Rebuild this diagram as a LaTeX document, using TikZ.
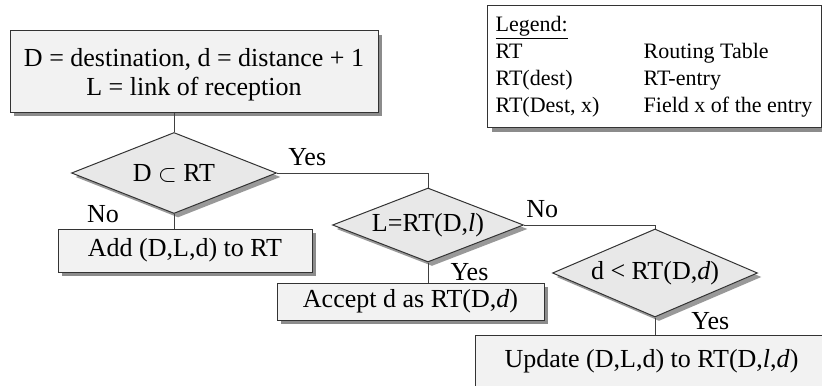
\documentclass[tikz,border=0pt]{standalone}
\usepackage{fontspec}
\setmainfont{Liberation Serif}
\usepackage{tikz}
\usetikzlibrary{shapes.geometric, shadows}
\tikzstyle{process} = [rectangle, draw=black!80, fill=black!5, line width=0.5pt, text centered, font=\fontsize{13}{14.5}\selectfont, drop shadow={shadow xshift=2pt, shadow yshift=-2pt, fill=black!45, opacity=1}]
\tikzstyle{decision} = [diamond, draw=black!80, fill=black!9, line width=0.5pt, inner sep=0pt, aspect=2.5, text centered, font=\fontsize{13}{14.5}\selectfont, drop shadow={shadow xshift=2pt, shadow yshift=-2pt, fill=black!40, opacity=1}]
\tikzstyle{legendbox} = [rectangle, draw=black!80, fill=white, line width=0.5pt, minimum width=167pt, minimum height=59.5pt, font=\fontsize{11}{13.5}\selectfont, drop shadow={shadow xshift=2.5pt, shadow yshift=-2.5pt, fill=black!45, opacity=1}]
\tikzstyle{line} = [draw=black!75, line width=0.5pt]
\tikzstyle{answer} = [font=\fontsize{13}{14.5}\selectfont]

\begin{document}
\begin{tikzpicture}[x=0.5pt, y=-0.5pt]
	\useasboundingbox (0,0) rectangle (822,385);
	\clip (0,0) rectangle (822,385);
			\node (start) [process, align=center, minimum width=184pt, minimum height=40.5pt] at (194,71.5) {\rule{0pt}{12pt}D = destination, d = distance + 1\\ L = link of reception};
			\node (dec1) [decision, below of=start, node distance=50.75pt, xshift=-10pt, minimum width=102.5pt, minimum height=40.5pt] {D $\subset$ RT};
			\node (add) [process, below of=dec1, node distance=38.75pt, xshift=5.5pt, minimum width=127pt, minimum height=21.5pt] {Add (D,L,d) to RT};
			\node (dec2) [decision, right of=dec1, node distance=127pt, yshift=-26pt, minimum width=95.5pt, minimum height=37pt] {L=RT(D,\textit{l})};
			\node (accept) [process, below of=dec2, node distance=38.25pt, xshift=-8.75pt, minimum width=133.5pt, minimum height=18.5pt] {Accept d as RT(D,\textit{d})};
			\node (dec3) [decision, right of=dec2, node distance=113.5pt, yshift=-24pt, minimum width=102.5pt, minimum height=44pt] {d < RT(D,\textit{d})};
			\node (update) [process, below of=dec3, node distance=44.25pt, xshift=-1.75pt, minimum width=176.5pt, minimum height=26.5pt] {Update (D,L,d) to RT(D,\textit{l},\textit{d})};
			\node (legend) [legendbox] at (654,66.5) {\begin{tabular}{@{}p{74pt}@{}l@{}}
				\underline{Legend:} & \\
				RT & Routing Table \\
				RT(dest) & RT-entry \\
				RT(Dest, x) & Field x of the entry
			\end{tabular}};
			\draw [line] (dec1.north |- start.south) -- (dec1.north);
			\draw [line] (dec1.east) -| node [answer, pos=0.1, above] {Yes} (dec2.north);
			\draw [line] (dec1.south) -- node [answer, pos=0, left, xshift=-24pt] {No} (dec1.south |- add.north);
			\draw [line] (dec2.east) -| node [answer, pos=0.07, above] {No} (dec3.north);
			\draw [line] (dec2.south) -- node [answer, right, xshift=7.7pt] {Yes} (dec2.south |- accept.north);
			\draw [line] (dec3.south) -- node [answer, pos=0.2, right, xshift=14.6pt] {Yes} (dec3.south |- update.north);
		\end{tikzpicture}
\end{document}
